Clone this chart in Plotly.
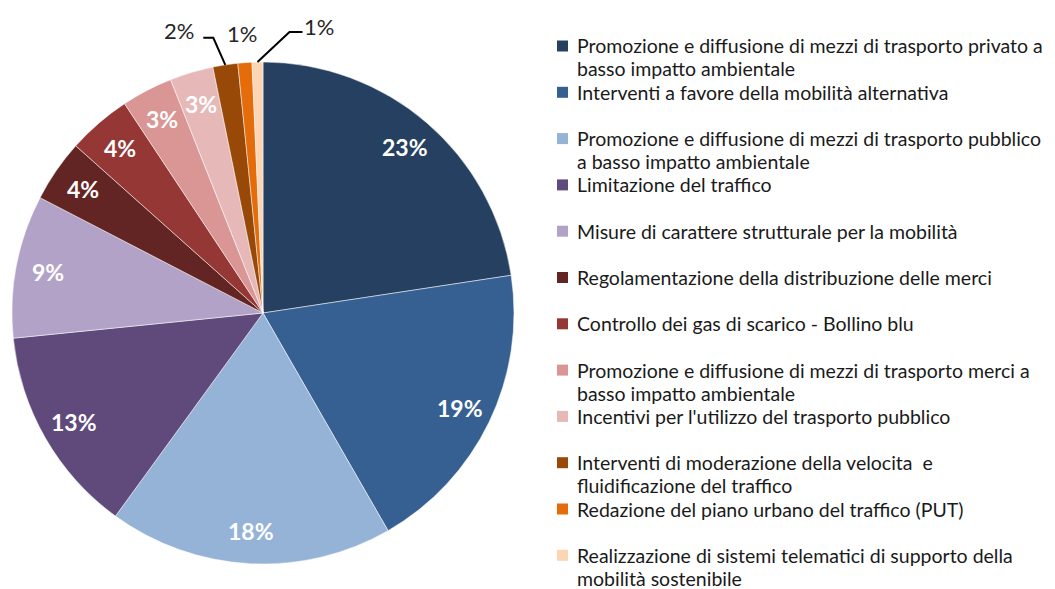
import math
import plotly.graph_objects as go

# Dati
categorie = [
    "Promozione e diffusione di mezzi di trasporto privato a<br>basso impatto ambientale",
    "Interventi a favore della mobilità alternativa",
    "Promozione e diffusione di mezzi di trasporto pubblico<br>a basso impatto ambientale",
    "Limitazione del traffico",
    "Misure di carattere strutturale per la mobilità",
    "Regolamentazione della distribuzione delle merci",
    "Controllo dei gas di scarico - Bollino blu",
    "Promozione e diffusione di mezzi di trasporto merci a<br>basso impatto ambientale",
    "Incentivi per l'utilizzo del trasporto pubblico",
    "Interventi di moderazione della velocita\u00a0 e<br>fluidificazione del traffico",
    "Redazione del piano urbano del traffico (PUT)",
    "Realizzazione di sistemi telematici di supporto della<br>mobilità sostenibile",
]
valori = [22.6, 19.1, 18.3, 13.4, 9.2, 4.0, 4.1, 3.3, 2.8, 1.6, 0.9, 0.7]
colori = ["#254061", "#376092", "#95B3D7", "#604A7B", "#B3A2C7", "#632523",
          "#953735", "#D99694", "#E6B9B8", "#984807", "#E46C0A", "#FCD5B5"]

W, H = 1055, 589
# centro e raggio della torta in pixel (coordinate della figura)
cx, cy, r = 255, 305, 251

fig = go.Figure(go.Pie(
    labels=[c.replace("<br>", " ") for c in categorie],
    values=valori,
    sort=False,
    direction="clockwise",
    rotation=0,
    marker=dict(colors=colori, line=dict(color="white", width=0.5)),
    textinfo="none",
    hoverinfo="label+percent",
    showlegend=False,
    domain=dict(x=[(cx - r) / W, (cx + r) / W],
                y=[1 - (cy + r) / H, 1 - (cy - r) / H]),
))

tot = sum(valori)
mezzo = []
s = 0
for v in valori:
    mezzo.append(s + v / 2)
    s += v


def punto(i, fr):
    t = 2 * math.pi * mezzo[i] / tot
    return cx + fr * r * math.sin(t), cy - fr * r * math.cos(t)


def px2paper(x, y):
    return x / W, 1 - y / H


def perc(i):
    return "%d%%" % round(valori[i] / tot * 100)


shapes = []
annotations = []

# etichette interne
for i in range(9):
    x, y = px2paper(*punto(i, 0.87))
    annotations.append(dict(x=x, y=y, xref="paper", yref="paper", showarrow=False,
                            xanchor="center", yanchor="middle", text=perc(i),
                            font=dict(family="Lato", size=23, color="white", weight="bold")))

# etichette esterne per le fette piccole, con linee di richiamo
# (indice, gomito dx, gomito dy, fine dx, testo dx, testo dy)
richiami = [
    (9, -12, -27, -10, -46, -34),
    (10, None, None, None, -3, -29),
    (11, 32, -30, 13, 62, -36),
]
for i, gx, gy, fx, tx, ty in richiami:
    ex, ey = punto(i, 1.0)
    if gx is not None:
        x1, y1 = ex + gx, ey + gy
        p = [px2paper(ex, ey), px2paper(x1, y1), px2paper(x1 + fx, y1)]
        path = "M %f,%f L %f,%f L %f,%f" % (p[0][0], p[0][1], p[1][0], p[1][1], p[2][0], p[2][1])
        shapes.append(dict(type="path", xref="paper", yref="paper", path=path,
                           line=dict(color="black", width=2)))
    lx, ly = px2paper(ex + tx, ey + ty)
    annotations.append(dict(x=lx, y=ly, xref="paper", yref="paper", showarrow=False,
                            xanchor="center", yanchor="middle", text=perc(i),
                            font=dict(family="Lato", size=22, color="#262626")))

# legenda
leg_x, leg_y0, passo, riga = 549, 38, 46.3, 23
for i, c in enumerate(categorie):
    y = leg_y0 + passo * i
    x0, y0 = px2paper(leg_x, y - 5.5)
    x1, y1 = px2paper(leg_x + 11, y + 5.5)
    shapes.append(dict(type="rect", xref="paper", yref="paper", x0=x0, x1=x1, y0=y0, y1=y1,
                       fillcolor=colori[i], line=dict(width=0)))
    for k, testo in enumerate(c.split("<br>")):
        tx, ty = px2paper(leg_x + 18, y + k * riga)
        annotations.append(dict(x=tx, y=ty, xref="paper", yref="paper", showarrow=False,
                                xanchor="left", yanchor="middle", text=testo,
                                font=dict(family="Lato", size=19.5, color="#1a1a1a")))

fig.update_layout(
    width=W, height=H,
    margin=dict(l=0, r=0, t=0, b=0),
    paper_bgcolor="white",
    plot_bgcolor="white",
    shapes=shapes,
    annotations=annotations,
)

fig.write_html("out.html")
